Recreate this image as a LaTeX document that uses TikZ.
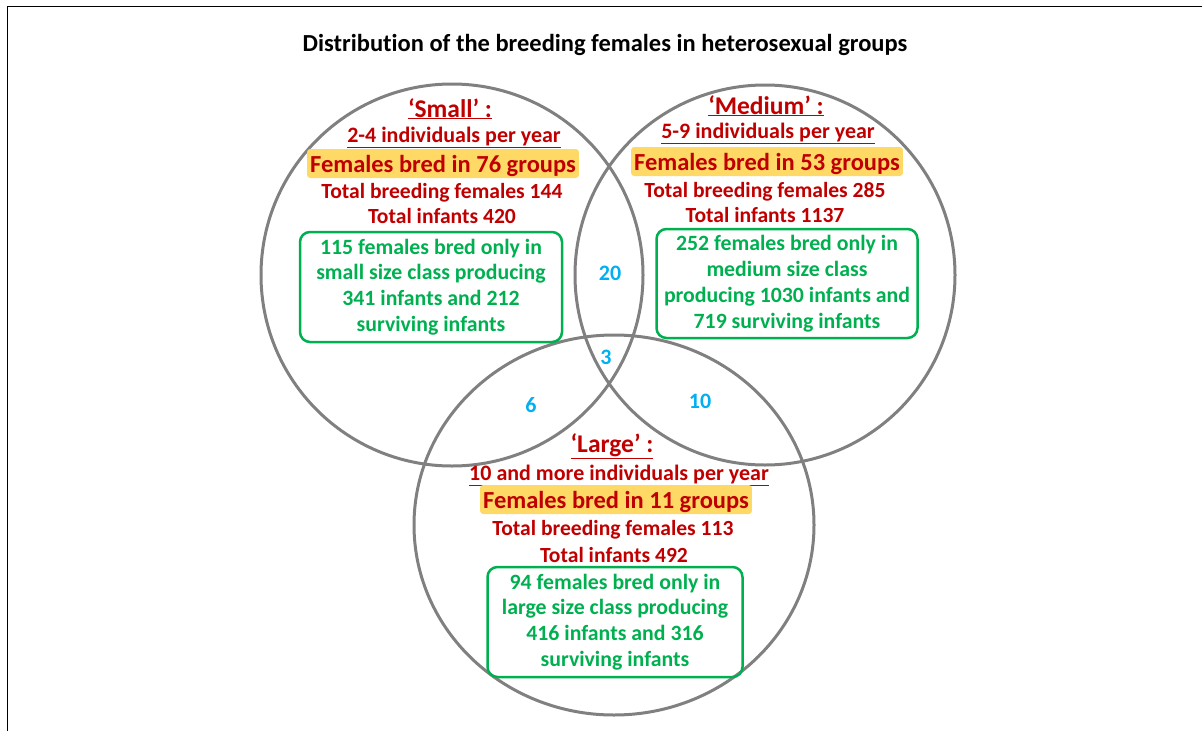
\documentclass[tikz,border=0pt]{standalone}
\usepackage{fontspec}
\setmainfont{Carlito}[Ligatures=NoCommon]
\usetikzlibrary{positioning,shapes.geometric}
\definecolor{darkred}{HTML}{C00000}
\definecolor{gold}{HTML}{FFD966}
\definecolor{leaf}{HTML}{00B050}
\definecolor{sky}{HTML}{00B0F0}
\definecolor{ringgray}{HTML}{808080}

\begin{document}
\begin{tikzpicture}[
  x=1pt, y=-1pt,
  ring/.style={draw=ringgray, line width=3pt, inner sep=0pt, outer sep=0pt},
  headtxt/.style={anchor=base, inner sep=0pt, text=darkred, font=\bfseries\fontsize{25.5}{27}\selectfont},
  rangetxt/.style={anchor=base, inner sep=0pt, text=darkred, font=\bfseries\fontsize{22}{24}\selectfont},
  bredbox/.style={anchor=base, fill=gold, rounded corners=3pt, inner xsep=3pt, inner ysep=0pt,
    text height=23pt, text depth=6pt, text=darkred, font=\bfseries\fontsize{24.5}{26}\selectfont},
  totaltxt/.style={anchor=base, inner sep=0pt, text=darkred, font=\bfseries\fontsize{21.6}{23}\selectfont},
  onlybox/.style={draw=leaf, line width=2.5pt, rounded corners=10pt, align=center, inner sep=0pt,
    text=leaf, font=\bfseries\fontsize{21.8}{25.8}\selectfont},
  overlapnum/.style={anchor=base, inner sep=0pt, text=sky, font=\bfseries\fontsize{22}{24}\selectfont},
]
\useasboundingbox (0,0) rectangle (1202,731);

% frame and title
\draw[line width=1.6pt] (7.5,731) -- (7.5,6.5) -- (1202,6.5);
\node[anchor=base, inner sep=0pt, font=\bfseries\fontsize{24.5}{26}\selectfont] (title) at (605,51)
  {Distribution of the breeding females in heterosexual groups};

% the three size classes
\node[ring, circle, minimum size=382pt] (small) at (452,275) {};
\node[ring, circle, minimum size=380pt] (medium) at (765,275) {};
\node[ring, ellipse, minimum width=400pt, minimum height=380pt] (large) at (614,525) {};

% Small
\node[headtxt] (smallhead) at (450,117) {\underline{‘Small’ :}};
\node[rangetxt] (smallrange) at (454,142) {\underline{2-4 individuals per year}};
\node[bredbox] (smallbred) at (443,172) {Females bred in 76 groups};
\node[totaltxt] (smalltotal) at (442,198) {Total breeding females 144};
\node[totaltxt] (smallinf) at (442,223) {Total infants 420};
\node[onlybox, minimum width=262pt, minimum height=110pt] (smallonly) at (431,287)
  {115 females bred only in\\small size class producing\\341 infants and 212\\surviving infants};

% Medium
\node[headtxt] (mediumhead) at (766,114) {\underline{‘Medium’ :}};
\node[rangetxt] (mediumrange) at (768,138) {\underline{5-9 individuals per year}};
\node[bredbox] (mediumbred) at (767,170) {Females bred in 53 groups};
\node[totaltxt] (mediumtotal) at (765,197) {Total breeding females 285};
\node[totaltxt] (mediuminf) at (765,222) {Total infants 1137};
\node[onlybox, minimum width=261pt, minimum height=109pt] (mediumonly) at (787,283.5)
  {252 females bred only in\\medium size class\\producing 1030 infants and\\719 surviving infants};

% Large
\node[headtxt] (largehead) at (612,452) {\underline{‘Large’ :}};
\node[rangetxt] (largerange) at (619,480) {\underline{10 and more individuals per year}};
\node[bredbox] (largebred) at (616,508) {Females bred in 11 groups};
\node[totaltxt] (largetotal) at (613,535) {Total breeding females 113};
\node[totaltxt] (largeinf) at (614,562) {Total infants 492};
\node[onlybox, minimum width=255pt, minimum height=110pt] (largeonly) at (615,622)
  {94 females bred only in\\large size class producing\\416 infants and 316\\surviving infants};

% overlaps
\node[overlapnum] (sm) at (610,280) {20};
\node[overlapnum] (sml) at (606,364) {3};
\node[overlapnum] (sl) at (531,412) {6};
\node[overlapnum] (ml) at (700,408) {10};
\end{tikzpicture}
\end{document}
